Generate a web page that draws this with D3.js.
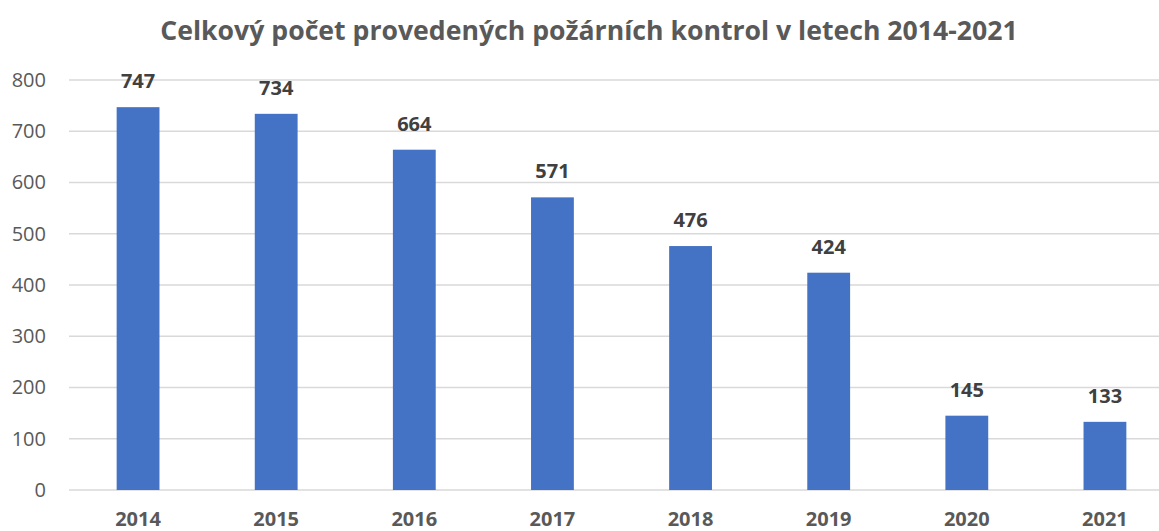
<!DOCTYPE html>
<html>
<head>
<meta charset="utf-8">
<script src="https://cdn.jsdelivr.net/npm/d3@7"></script>
<style>
  body { margin: 0; background: #fff; }
  text { font-family: "Open Sans", sans-serif; }
</style>
</head>
<body>
<div id="chart"></div>
<script>
// data
const years = ["2014", "2015", "2016", "2017", "2018", "2019", "2020", "2021"];
const counts = [747, 734, 664, 571, 476, 424, 145, 133];
const yTicks = [0, 100, 200, 300, 400, 500, 600, 700, 800];
const title = "Celkový počet provedených požárních kontrol v letech 2014-2021";

const data = years.map((y, i) => ({ year: y, count: counts[i] }));

const W = 1159, H = 531;
const plotLeft = 69, plotRight = 1174, plotTop = 80, plotBottom = 490;

const svg = d3.select("#chart")
    .append("svg")
    .attr("width", W)
    .attr("height", H);

const x = d3.scaleBand()
    .domain(years)
    .range([plotLeft, plotRight])
    .paddingInner(0.69)
    .paddingOuter(0.345);

const y = d3.scaleLinear()
    .domain([0, 800])
    .range([plotBottom, plotTop]);

// gridlines
svg.append("g")
    .selectAll("line")
    .data(yTicks)
    .enter()
    .append("line")
    .attr("x1", plotLeft)
    .attr("x2", W)
    .attr("y1", d => y(d))
    .attr("y2", d => y(d))
    .attr("stroke", "#d9d9d9")
    .attr("stroke-width", 1.3);

// y axis labels
const yAxis = svg.append("g")
    .attr("transform", "translate(46,0)")
    .call(d3.axisLeft(y).tickValues(yTicks).tickSize(0).tickPadding(0));
yAxis.select(".domain").remove();
yAxis.selectAll("text")
    .attr("fill", "#595959")
    .style("font-family", "'Open Sans', sans-serif")
    .style("font-size", "20px");

// bars
svg.selectAll(".bar")
    .data(data)
    .enter()
    .append("rect")
    .attr("class", "bar")
    .attr("x", d => x(d.year))
    .attr("y", d => y(d.count))
    .attr("width", x.bandwidth())
    .attr("height", d => plotBottom - y(d.count))
    .attr("fill", "#4472c4");

// value labels
svg.selectAll(".bar-label")
    .data(data)
    .enter()
    .append("text")
    .attr("class", "bar-label")
    .attr("x", d => x(d.year) + x.bandwidth() / 2)
    .attr("y", d => y(d.count) - 19)
    .attr("text-anchor", "middle")
    .attr("fill", "#404040")
    .style("font-size", "20px")
    .style("font-weight", "bold")
    .text(d => d.count);

// x axis labels
const xAxis = svg.append("g")
    .attr("transform", "translate(0," + plotBottom + ")")
    .call(d3.axisBottom(x).tickSize(0).tickPadding(0));
xAxis.select(".domain").remove();
xAxis.selectAll("text")
    .attr("y", 36)
    .attr("dy", null)
    .attr("fill", "#595959")
    .style("font-family", "'Open Sans', sans-serif")
    .style("font-size", "20px")
    .style("font-weight", "bold");

// title
const t = svg.append("text")
    .attr("x", 589)
    .attr("y", 40)
    .attr("text-anchor", "middle")
    .attr("fill", "#595959")
    .style("font-size", "24px")
    .style("font-weight", "bold")
    .text(title);
const tw = t.node().getComputedTextLength();
t.style("font-size", (24 * 858 / tw) + "px");
</script>
</body>
</html>
